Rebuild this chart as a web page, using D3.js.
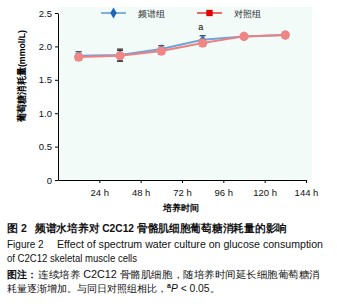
<!DOCTYPE html>
<html>
<head>
<meta charset="utf-8">
<script src="https://cdn.jsdelivr.net/npm/d3@7"></script>
<style>
  body { margin: 0; background: #fff; }
  svg { display: block; font-family: "Liberation Sans", Arial, sans-serif; }
  .axis path, .axis line { stroke: #000; }
  .axis text { font-size: 9.5px; fill: #111; }
</style>
</head>
<body>
<svg id="chart" width="337" height="306"></svg>
<script>
// culture time (h)
const HOURS = [24, 48, 72, 96, 120, 144];
const TICK_LABELS = ['24 h', '48 h', '72 h', '96 h', '120 h', '144 h'];
const Y_TICKS = [0, 0.5, 1.0, 1.5, 2.0, 2.5];

// glucose consumption (mmol/L)
const SPECTRUM_MEAN = [1.86, 1.87, 1.96, 2.10, 2.15, 2.17];
const SPECTRUM_ERR  = [0.06, 0.09, 0.05, 0.06, 0.03, 0.03];
const CONTROL_MEAN  = [1.84, 1.86, 1.93, 2.05, 2.15, 2.17];
const CONTROL_ERR   = [0.05, 0.08, 0.05, 0.05, 0.03, 0.04];
const SIG_MARKS     = ['', '', '', 'a', '', ''];

const SERIES_NAMES = ['频谱组', '对照组'];

const margin = {left: 58, right: 31, top: 13, bottom: 126};
const W = 337, H = 306;
const plotW = W - margin.left - margin.right;
const plotH = H - margin.top - margin.bottom;

const svg = d3.select('#chart');

const x = d3.scaleLinear().domain([0, 144]).range([margin.left, margin.left + plotW]);
const y = d3.scaleLinear().domain([0, 2.5]).range([margin.top + plotH, margin.top]);

// plot background
svg.append('rect')
    .attr('x', x(0))
    .attr('y', y(2.5) - 6)
    .attr('width', plotW + 6)
    .attr('height', plotH + 6)
    .attr('fill', '#f2fbf8');

// axes
const xAxis = d3.axisBottom(x)
    .tickValues(HOURS)
    .tickFormat((d, i) => TICK_LABELS[i])
    .tickSize(3)
    .tickSizeOuter(0);
svg.append('g')
    .attr('class', 'axis')
    .attr('transform', 'translate(0,' + y(0) + ')')
    .call(xAxis)
    .call(g => g.selectAll('text').attr('dy', '1.05em'));

const yAxis = d3.axisLeft(y)
    .tickValues(Y_TICKS)
    .tickFormat(d => d === 0 ? '0' : d.toFixed(1))
    .tickSize(3)
    .tickSizeOuter(0);
svg.append('g')
    .attr('class', 'axis')
    .attr('transform', 'translate(' + x(0) + ',0)')
    .call(yAxis)
    .call(g => g.selectAll('text').attr('x', -6));

// axis titles
svg.append('text')
    .attr('transform', 'translate(25,76) rotate(-90)')
    .attr('text-anchor', 'middle')
    .attr('font-size', 9.6)
    .attr('font-weight', 'bold')
    .attr('textLength', 92)
    .attr('lengthAdjust', 'spacingAndGlyphs')
    .text('葡萄糖消耗量(mmol/L)');

svg.append('text')
    .attr('x', 181)
    .attr('y', 211)
    .attr('text-anchor', 'middle')
    .attr('font-size', 9)
    .attr('font-weight', 'bold')
    .text('培养时间');

// points sit in the middle of each day interval
const px = h => x(h - 12);

const line = d3.line()
    .x((d, i) => px(HOURS[i]))
    .y(d => y(d));

function drawSeries(means, errs, lineColor, draw) {
    const g = svg.append('g');
    g.append('path')
        .datum(means)
        .attr('fill', 'none')
        .attr('stroke', lineColor)
        .attr('stroke-width', 2)
        .attr('d', line);

    const eb = g.selectAll('g.err')
        .data(means)
        .enter().append('g')
        .attr('class', 'err');
    eb.append('line')
        .attr('x1', (d, i) => px(HOURS[i]))
        .attr('x2', (d, i) => px(HOURS[i]))
        .attr('y1', (d, i) => y(d - errs[i]))
        .attr('y2', (d, i) => y(d + errs[i]))
        .attr('stroke', '#333')
        .attr('stroke-width', 1);
    [1, -1].forEach(s => {
        eb.append('line')
            .attr('x1', (d, i) => px(HOURS[i]) - 3)
            .attr('x2', (d, i) => px(HOURS[i]) + 3)
            .attr('y1', (d, i) => y(d + s * errs[i]))
            .attr('y2', (d, i) => y(d + s * errs[i]))
            .attr('stroke', '#333')
            .attr('stroke-width', 1.2);
    });
    draw(g);
}

drawSeries(SPECTRUM_MEAN, SPECTRUM_ERR, '#6fa3dc', g => {
    g.selectAll('path.mk')
        .data(SPECTRUM_MEAN)
        .enter().append('path')
        .attr('class', 'mk')
        .attr('d', d3.symbol(d3.symbolDiamond, 30))
        .attr('transform', (d, i) => 'translate(' + px(HOURS[i]) + ',' + y(d) + ')')
        .attr('fill', '#2d76bf');
});

drawSeries(CONTROL_MEAN, CONTROL_ERR, '#ee8080', g => {
    g.selectAll('circle')
        .data(CONTROL_MEAN)
        .enter().append('circle')
        .attr('cx', (d, i) => px(HOURS[i]))
        .attr('cy', d => y(d))
        .attr('r', 4.6)
        .attr('fill', '#f08585');
});

// significance marks
svg.selectAll('text.sig')
    .data(SIG_MARKS)
    .enter().append('text')
    .filter(d => d !== '')
    .attr('class', 'sig')
    .attr('x', (d, i) => px(HOURS[SIG_MARKS.indexOf(d)]) - 2)
    .attr('y', 30)
    .attr('text-anchor', 'middle')
    .attr('font-size', 9)
    .text(d => d);

// legend
const legend = [
    {name: SERIES_NAMES[0], x: 101, color: '#4a86cc', marker: '#1f66b0', sym: d3.symbolDiamond, size: 36},
    {name: SERIES_NAMES[1], x: 197, color: '#e02020', marker: '#e00000', sym: d3.symbolSquare, size: 40}
];
const lg = svg.selectAll('g.lg')
    .data(legend)
    .enter().append('g')
    .attr('class', 'lg')
    .attr('transform', d => 'translate(' + d.x + ',13)');
lg.append('line')
    .attr('x1', 0).attr('x2', 25)
    .attr('stroke', d => d.color)
    .attr('stroke-width', 1.3);
lg.append('path')
    .attr('d', d => d3.symbol(d.sym, d.size)())
    .attr('transform', 'translate(12.5,0)')
    .attr('fill', d => d.marker);
lg.append('text')
    .attr('x', 37)
    .attr('y', 3.5)
    .attr('font-size', 9)
    .attr('fill', '#222')
    .text(d => d.name);

// caption
const cap = svg.append('g').attr('font-size', 10).attr('fill', '#111');
cap.append('text').attr('x', 7).attr('y', 232)
    .attr('font-weight', 'bold').attr('font-size', 10.5)
    .text('图 2');
cap.append('text').attr('x', 35).attr('y', 232)
    .attr('font-weight', 'bold').attr('font-size', 10.5)
    .attr('textLength', 252).attr('lengthAdjust', 'spacingAndGlyphs')
    .text('频谱水培养对 C2C12 骨骼肌细胞葡萄糖消耗量的影响');

cap.append('text').attr('x', 7).attr('y', 248)
    .text('Figure 2');
cap.append('text').attr('x', 57).attr('y', 248)
    .attr('textLength', 266).attr('lengthAdjust', 'spacingAndGlyphs')
    .text('Effect of spectrum water culture on glucose consumption');
cap.append('text').attr('x', 7).attr('y', 262)
    .attr('textLength', 130).attr('lengthAdjust', 'spacingAndGlyphs')
    .text('of C2C12 skeletal muscle cells');

cap.append('text').attr('x', 7).attr('y', 278)
    .attr('font-weight', 'bold').attr('font-size', 10.3)
    .text('图注：');
cap.append('text').attr('x', 38).attr('y', 278)
    .attr('font-size', 10.3)
    .attr('textLength', 282).attr('lengthAdjust', 'spacingAndGlyphs')
    .text('连续培养 C2C12 骨骼肌细胞，随培养时间延长细胞葡萄糖消');

const t5 = cap.append('text').attr('x', 7).attr('y', 292).attr('font-size', 10.3);
t5.append('tspan').text('耗量逐渐增加。与同日对照组相比，');
t5.append('tspan').attr('font-size', 7).attr('font-weight', 'bold').attr('dy', -4).text('a');
t5.append('tspan').attr('dy', 4).attr('font-style', 'italic').text('P');
t5.append('tspan').text(' < 0.05。');
</script>
</body>
</html>
